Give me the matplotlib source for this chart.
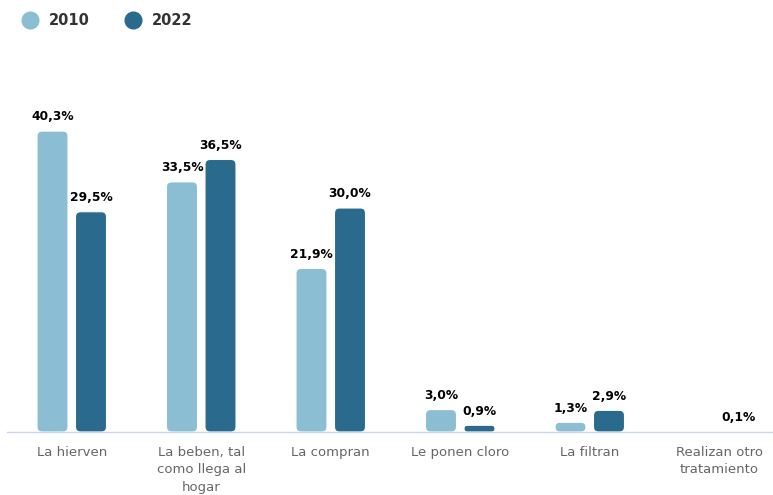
import matplotlib
matplotlib.use("Agg")
import matplotlib.pyplot as plt
import numpy as np
from matplotlib.patches import FancyBboxPatch
from matplotlib.lines import Line2D

# datos
categorias = ["La hierven", "La beben, tal\ncomo llega al\nhogar", "La compran",
              "Le ponen cloro", "La filtran", "Realizan otro\ntratamiento"]
valores_2010 = [40.3, 33.5, 21.9, 3.0, 1.3, np.nan]
valores_2022 = [29.5, 36.5, 30.0, 0.9, 2.9, 0.1]
series = ["2010", "2022"]
colores = ["#8bbdd3", "#2a6a8c"]

W, H = 773, 495
fig = plt.figure(figsize=(W / 100, H / 100), dpi=100)
ax = fig.add_axes([7 / W, (H - 432) / H, (W - 7) / W, 336 / H])

paso = 129.5  # px por categoria
x = np.arange(len(categorias))
ancho = 31 / paso
desp = 19.25 / paso

ax.set_xlim(-0.5, (W - 7) / paso - 0.5)
ax.set_ylim(0, 45)

px_x = paso
px_y = 336 / 45
radio_px = 5

for vals, off, col in zip([valores_2010, valores_2022], [-desp, desp], colores):
    barras = ax.bar(x + off, np.nan_to_num(vals), ancho, color=col)
    for b, v in zip(barras, vals):
        b.set_visible(False)
        if np.isnan(v) or v <= 0:
            continue
        alto_px = v * px_y
        r_px = min(radio_px, alto_px / 2)
        r = r_px / px_x
        caja = FancyBboxPatch((b.get_x(), 0), b.get_width(), v,
                              boxstyle=f"round,pad=0,rounding_size={r}",
                              mutation_aspect=px_x / px_y,
                              facecolor=col, edgecolor="white", linewidth=0.8)
        ax.add_patch(caja)
        etiqueta = f"{v:.1f}".replace(".", ",") + "%"
        ax.annotate(etiqueta, (b.get_x() + b.get_width() / 2, v),
                    xytext=(0, 5.5), textcoords="offset points",
                    ha="center", va="bottom", fontsize=8.8, fontweight="bold",
                    color="black")

ax.set_xticks(x)
ax.set_xticklabels(categorias, fontsize=9.5, color="#666666", linespacing=1.45, va="top")
ax.tick_params(axis="x", length=0, pad=10)
ax.set_yticks([])
for s in ["top", "left", "right"]:
    ax.spines[s].set_visible(False)
ax.spines["bottom"].set_color("#ccd6eb")
ax.spines["bottom"].set_linewidth(1)

manejadores = [Line2D([], [], marker="o", linestyle="none", markersize=12,
                      markerfacecolor=c, markeredgecolor=c) for c in colores]
fig.legend(manejadores, series, loc="upper left", bbox_to_anchor=(2 / W, 1 - 0 / H),
           ncol=2, frameon=False, handletextpad=0.3, columnspacing=2.0,
           prop={"weight": "bold", "size": 10.5}, labelcolor="#333333")

fig.savefig("out.png", dpi=100)
